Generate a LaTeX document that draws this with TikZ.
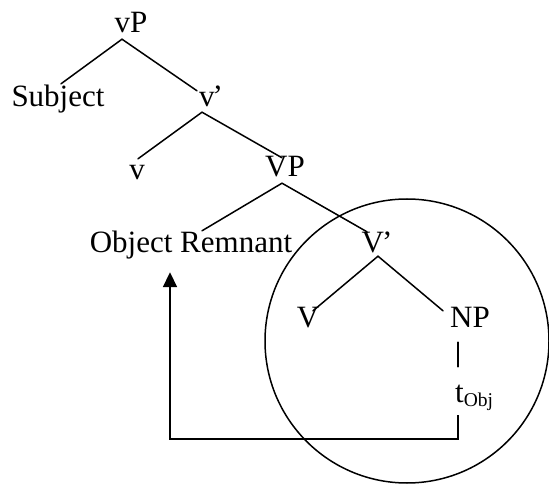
\documentclass[tikz,border=0pt]{standalone}
\usepackage{fontspec}
\setmainfont{Liberation Serif}
\usetikzlibrary{arrows.meta}
\tikzset{
  lbl/.style={inner sep=0pt,text height=20pt,text depth=0pt,anchor=base,
    font=\fontsize{31}{37}\selectfont},
  branch/.style={line width=1.5pt,line cap=round},
  movearrow/.style={line width=1.8pt,-{Triangle[length=15pt,width=14pt]}}
}
\newcommand{\SubObj}{\raisebox{-5pt}{\fontsize{19.5}{20}\selectfont Obj}}

\begin{document}
\begin{tikzpicture}[x=1pt,y=-1pt]
  \useasboundingbox (0,0) rectangle (549,486);

  \node[lbl] (vP) at (131,33) {vP};
  \node[lbl] (Subj) at (58,107) {Subject};
  \node[lbl] (vbar) at (211,107) {v\kern-0.06em’};
  \node[lbl] (v) at (137,180) {v};
  \node[lbl] (VP) at (285,177) {VP};
  \node[lbl] (ObjRem) at (191,253) {Object Remnant};
  \node[lbl] (Vbar) at (377,253) {V\kern-0.06em’};
  \node[lbl] (V) at (308,327) {V};
  \node[lbl] (NP) at (470,327) {NP};
  \node[lbl,anchor=base west] (tObj) at (455,402) {t\SubObj};

  \draw[branch] ([xshift=-9pt,yshift=-6pt]vP.south) -- ([xshift=3pt,yshift=3pt]Subj.north);
  \draw[branch] ([xshift=-9pt,yshift=-6pt]vP.south) -- ([xshift=-14pt,yshift=-4pt]vbar.north);
  \draw[branch] ([xshift=-9pt,yshift=-5pt]vbar.south) -- ([xshift=1pt,yshift=1pt]v.north);
  \draw[branch] ([xshift=-9pt,yshift=-5pt]vbar.south) -- ([xshift=-3pt,yshift=-1pt]VP.north);
  \draw[branch] ([xshift=-3pt,yshift=-6pt]VP.south) -- ([xshift=11pt,yshift=2pt]ObjRem.north);
  \draw[branch] ([xshift=-3pt,yshift=-6pt]VP.south) -- ([xshift=-10pt,yshift=1pt]Vbar.north);
  \draw[branch] ([xshift=1pt,yshift=-3pt]Vbar.south) -- ([xshift=5pt,yshift=-4pt]V.north);
  \draw[branch] ([xshift=1pt,yshift=-3pt]Vbar.south) -- ([xshift=-27pt,yshift=-4pt]NP.north);
  \draw[branch] ([xshift=-12pt,yshift=-15pt]NP.south) -- ([xshift=3pt,yshift=15pt]tObj.north west);

  % movement of the object
  \draw[movearrow] ([xshift=3pt,yshift=-13pt]tObj.south west) -- ++(0,24)
    -| ([xshift=-21pt,yshift=-19pt]ObjRem.south);

  \draw[branch] (407,341) circle[radius=142pt];
\end{tikzpicture}
\end{document}
